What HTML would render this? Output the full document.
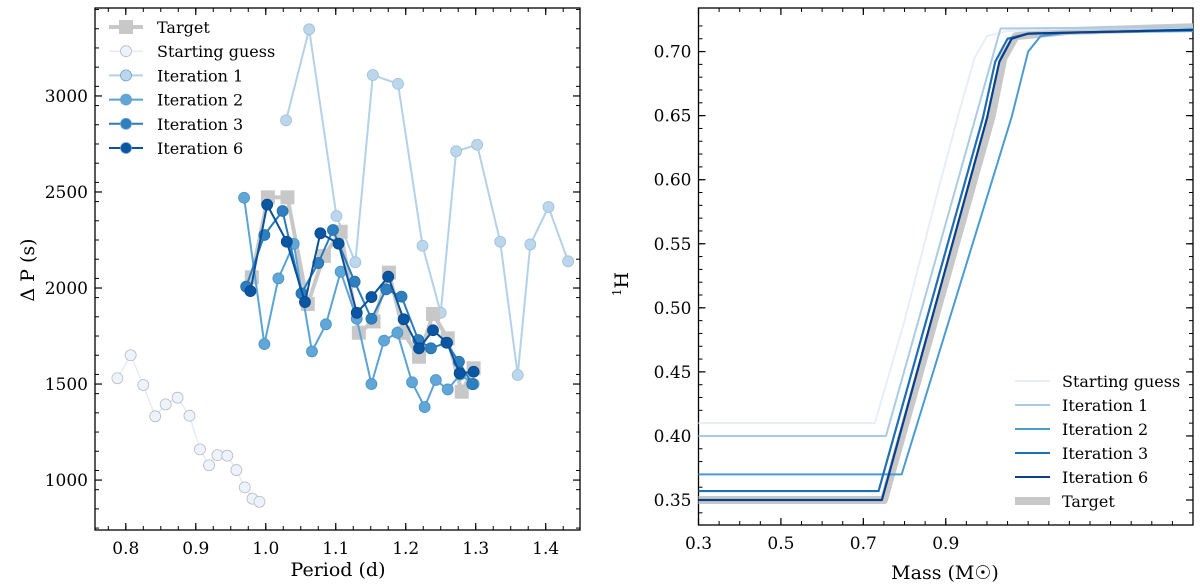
<!DOCTYPE html>
<html><head><meta charset="utf-8"><style>
html,body{margin:0;padding:0;background:#fff;}
svg{display:block;font-family:"DejaVu Serif","Liberation Serif",serif;}
</style></head><body>
<svg id="svg" width="1200" height="588" viewBox="0 0 1200 588" xmlns="http://www.w3.org/2000/svg">
<g id="left"></g>
<g id="right"></g>
</svg>
<script>
// ---- Left panel data (Period d, Delta P s) ----
const guessP = [0.788,0.807,0.825,0.842,0.857,0.874,0.891,0.906,0.919,0.931,0.945,0.958,0.970,0.981,0.991];
const guessDP = [1530,1650,1495,1332,1394,1429,1335,1160,1077,1130,1127,1052,962,903,887];
const it1P = [1.029,1.062,1.101,1.128,1.153,1.189,1.224,1.250,1.272,1.302,1.335,1.360,1.378,1.404,1.432];
const it1DP = [2873,3347,2375,2134,3109,3063,2220,1871,2712,2746,2241,1547,2227,2422,2139];
const it2P = [0.969,0.998,1.018,1.040,1.066,1.086,1.107,1.130,1.151,1.169,1.188,1.209,1.227,1.243,1.260,1.278,1.297];
const it2DP = [2470,1708,2050,2230,1670,1811,2085,1840,1500,1726,1767,1509,1380,1521,1472,1550,1500];
const it3P = [0.972,0.998,1.024,1.051,1.075,1.096,1.127,1.151,1.172,1.194,1.218,1.236,1.258,1.276,1.295];
const it3DP = [2007,2276,2401,1972,2130,2302,2033,1840,1993,1955,1729,1686,1715,1616,1500];
const it6P = [0.978,1.002,1.030,1.056,1.078,1.104,1.130,1.151,1.175,1.197,1.219,1.239,1.259,1.277,1.297];
const it6DP = [1984,2434,2241,1927,2285,2231,1871,1953,2059,1837,1686,1780,1715,1556,1564];
const targetP = [0.980,1.003,1.031,1.060,1.083,1.107,1.133,1.154,1.176,1.197,1.219,1.239,1.260,1.280,1.297];
const targetDP = [2056,2472,2472,1917,2167,2293,1767,1826,2080,1767,1642,1865,1738,1460,1582];
const xTicksL = [0.8,0.9,1.0,1.1,1.2,1.3,1.4];
const yTicksL = [1000,1500,2000,2500,3000];

// ---- Right panel data (Mass, X_H) ----
const guessM = [0.3,0.728,0.80,0.88,0.93,0.97,1.00,1.05,1.2,1.5];
const guessH = [0.41,0.41,0.49,0.59,0.65,0.695,0.712,0.716,0.718,0.719];
const it1M = [0.3,0.755,1.033,1.5];
const it1H = [0.40,0.40,0.718,0.719];
const it2M = [0.3,0.793,0.793,1.06,1.10,1.13,1.2,1.5];
const it2H = [0.37,0.37,0.37,0.649,0.700,0.712,0.715,0.716];
const it3M = [0.3,0.737,0.99,1.02,1.05,1.1,1.5];
const it3H = [0.357,0.357,0.648,0.692,0.710,0.714,0.717];
const it6M = [0.3,0.745,1.0,1.03,1.06,1.1,1.5];
const it6H = [0.35,0.35,0.648,0.692,0.710,0.714,0.717];
const tgtM = [0.3,0.75,1.011,1.04,1.07,1.2,1.5];
const tgtH = [0.35,0.35,0.649,0.695,0.712,0.716,0.719];
const xTicksR = [0.3,0.5,0.7,0.9];
const yTicksR = [0.35,0.40,0.45,0.50,0.55,0.60,0.65,0.70];

const NS="http://www.w3.org/2000/svg";
function mk(parent,tag,attrs,text){const e=document.createElementNS(NS,tag);for(const k in attrs)e.setAttribute(k,attrs[k]);if(text!==undefined)e.textContent=text;parent.appendChild(e);return e;}

const L={x0:95,x1:580,y0:8,y1:530,xmin:0.756,xmax:1.449,ymin:740,ymax:3458};
const lx=v=>L.x0+(v-L.xmin)/(L.xmax-L.xmin)*(L.x1-L.x0);
const ly=v=>L.y1-(v-L.ymin)/(L.ymax-L.ymin)*(L.y1-L.y0);
const R={x0:698.5,x1:1193,y0:8,y1:525,xmin:0.3,xmax:1.5,ymin:0.3305,ymax:0.734};
const rx=v=>R.x0+(v-R.xmin)/(R.xmax-R.xmin)*(R.x1-R.x0);
const ry=v=>R.y1-(v-R.ymin)/(R.ymax-R.ymin)*(R.y1-R.y0);

const left=document.getElementById('left');
const right=document.getElementById('right');

function drawAxes(g,A,fx,fy,xt,yt,xminor,yminor,xfmt,yfmt){
  const ax=mk(g,'g',{});
  
  
  for(const v of xminor){const p=fx(v);if(p<A.x0||p>A.x1)continue;
    mk(ax,'line',{x1:p,x2:p,y1:A.y1,y2:A.y1-4,stroke:'#000','stroke-width':1});
    mk(ax,'line',{x1:p,x2:p,y1:A.y0,y2:A.y0+4,stroke:'#000','stroke-width':1});}
  for(const v of yminor){const p=fy(v);if(p<A.y0||p>A.y1)continue;
    mk(ax,'line',{x1:A.x0,x2:A.x0+4,y1:p,y2:p,stroke:'#000','stroke-width':1});
    mk(ax,'line',{x1:A.x1,x2:A.x1-4,y1:p,y2:p,stroke:'#000','stroke-width':1});}
  for(const v of xt){const p=fx(v);
    mk(ax,'line',{x1:p,x2:p,y1:A.y1,y2:A.y1-7,stroke:'#000','stroke-width':1.2});
    mk(ax,'line',{x1:p,x2:p,y1:A.y0,y2:A.y0+7,stroke:'#000','stroke-width':1.2});
    const t=mk(ax,'text',{x:p,y:A.y1+24,'text-anchor':'middle','font-size':17},xfmt(v));
    
    }
  for(const v of yt){const p=fy(v);
    mk(ax,'line',{x1:A.x0,x2:A.x0+7,y1:p,y2:p,stroke:'#000','stroke-width':1.2});
    mk(ax,'line',{x1:A.x1,x2:A.x1-7,y1:p,y2:p,stroke:'#000','stroke-width':1.2});
    const t=mk(ax,'text',{x:A.x0-7,y:p+6,'text-anchor':'end','font-size':17},yfmt(v));
    
    }
  const fr=mk(g,'rect',{x:A.x0,y:A.y0,width:A.x1-A.x0,height:A.y1-A.y0,fill:'none',stroke:'#000','stroke-width':1.3});
  
  
}

const xminL=[],yminL=[];
for(let v=0.75;v<=1.46;v+=0.025)xminL.push(+v.toFixed(3));
for(let v=750;v<=3450;v+=100)yminL.push(v);
drawAxes(left,L,lx,ly,xTicksL,yTicksL,xminL,yminL,v=>v.toFixed(1),v=>String(v));

function lseries(g,name,xs,ys,color,fill,edge,lw,r,square){
  const s=mk(g,'g',{});
  
  
  mk(s,'polyline',{points:xs.map((x,i)=>lx(x)+','+ly(ys[i])).join(' '),fill:'none',stroke:color,'stroke-width':lw,'stroke-linejoin':'round'});
  xs.forEach((x,i)=>{
    let m;
    if(square){m=mk(s,'rect',{x:lx(x)-7,y:ly(ys[i])-7,width:14,height:14,fill:fill});}
    else{m=mk(s,'circle',{cx:lx(x),cy:ly(ys[i]),r:r,fill:fill,stroke:edge,'stroke-width':0.8});}
    
    
  });
}
lseries(left,'starting-guess-series',guessP,guessDP,'#e4ecf8','#eef3fb','#b9b9c4',1.5,5.5,false);
lseries(left,'iteration-1-series',it1P,it1DP,'#b3d1e8','#bcd7eb','#9fbfd8',2,5.5,false);
lseries(left,'target-series',targetP,targetDP,'#c8c8c8','#c8c8c8','#c8c8c8',4,0,true);
lseries(left,'iteration-2-series',it2P,it2DP,'#5ba3d6','#60a6d7','#4b94c8',2,5.5,false);
lseries(left,'iteration-3-series',it3P,it3DP,'#2b7bba','#2f7fbe','#236fad',2,5.5,false);
lseries(left,'iteration-6-series',it6P,it6DP,'#08519c','#0b56a2','#08468a',2,5.5,false);

const legL=mk(left,'g',{});


const legItemsL=[['Target','#c8c8c8','#c8c8c8','sq',4],['Starting guess','#e4ecf8','#eef3fb','c',1.5],['Iteration 1','#b3d1e8','#bcd7eb','c',2],['Iteration 2','#5ba3d6','#60a6d7','c',2],['Iteration 3','#2b7bba','#2f7fbe','c',2],['Iteration 6','#08519c','#0b56a2','c',2]];
legItemsL.forEach((it,i)=>{
  const y=27+i*24.2;
  const e=mk(legL,'g',{});
  
  
  mk(e,'line',{x1:109,x2:143,y1:y,y2:y,stroke:it[1],'stroke-width':it[4]});
  if(it[3]==='sq')mk(e,'rect',{x:119,y:y-7,width:14,height:14,fill:it[2]});
  else mk(e,'circle',{cx:126,cy:y,r:5.5,fill:it[2],stroke:i===1?'#b9b9c4':'#6f9fc8','stroke-width':0.8});
  mk(e,'text',{x:157,y:y+6,'font-size':16},it[0]);
});
const xl=mk(left,'text',{x:338,y:576,'text-anchor':'middle','font-size':19},'Period (d)');


const yl=mk(left,'text',{x:0,y:0,'text-anchor':'middle','font-size':19,transform:'translate(34,270) rotate(-90)'},'Δ P (s)');



const xminR=[],yminR=[];
for(let v=0.3;v<=1.5;v+=0.05)xminR.push(+v.toFixed(3));
for(let v=0.34;v<=0.73;v+=0.01)yminR.push(+v.toFixed(3));
drawAxes(right,R,rx,ry,xTicksR,yTicksR,xminR,yminR,v=>v.toFixed(1),v=>v.toFixed(2));

function rseries(g,name,xs,ys,color,lw){
  const p=mk(g,'polyline',{points:xs.map((x,i)=>rx(x)+','+ry(ys[i])).join(' '),fill:'none',stroke:color,'stroke-width':lw,'stroke-linejoin':'round'});
  
  
}
rseries(right,'target-profile',tgtM,tgtH,'#c8c8c8',8);
rseries(right,'starting-guess-profile',guessM,guessH,'#e8eef9',2);
rseries(right,'iteration-1-profile',it1M,it1H,'#a9cbe4',2);
rseries(right,'iteration-2-profile',it2M,it2H,'#4a9bd4',2);
rseries(right,'iteration-3-profile',it3M,it3H,'#1f6fb4',2.2);
rseries(right,'iteration-6-profile',it6M,it6H,'#08408c',2.2);

const legR=mk(right,'g',{});


const legItemsR=[['Starting guess','#e8eef9',2],['Iteration 1','#a9cbe4',2],['Iteration 2','#4a9bd4',2],['Iteration 3','#1f6fb4',2],['Iteration 6','#08408c',2],['Target','#c8c8c8',8]];
legItemsR.forEach((it,i)=>{
  const y=381+i*24;
  const e=mk(legR,'g',{});
  
  
  mk(e,'line',{x1:1015,x2:1050,y1:y,y2:y,stroke:it[1],'stroke-width':it[2]});
  mk(e,'text',{x:1062,y:y+6,'font-size':16},it[0]);
});
const xr=mk(right,'text',{x:945,y:579,'text-anchor':'middle','font-size':19},'Mass (M☉)');


const yr=mk(right,'text',{x:0,y:0,'text-anchor':'middle','font-size':19,transform:'translate(628,284) rotate(-90)'});


mk(yr,'tspan',{'font-size':12,dy:-7},'1');
mk(yr,'tspan',{dy:7},'H');
</script>
</body></html>
